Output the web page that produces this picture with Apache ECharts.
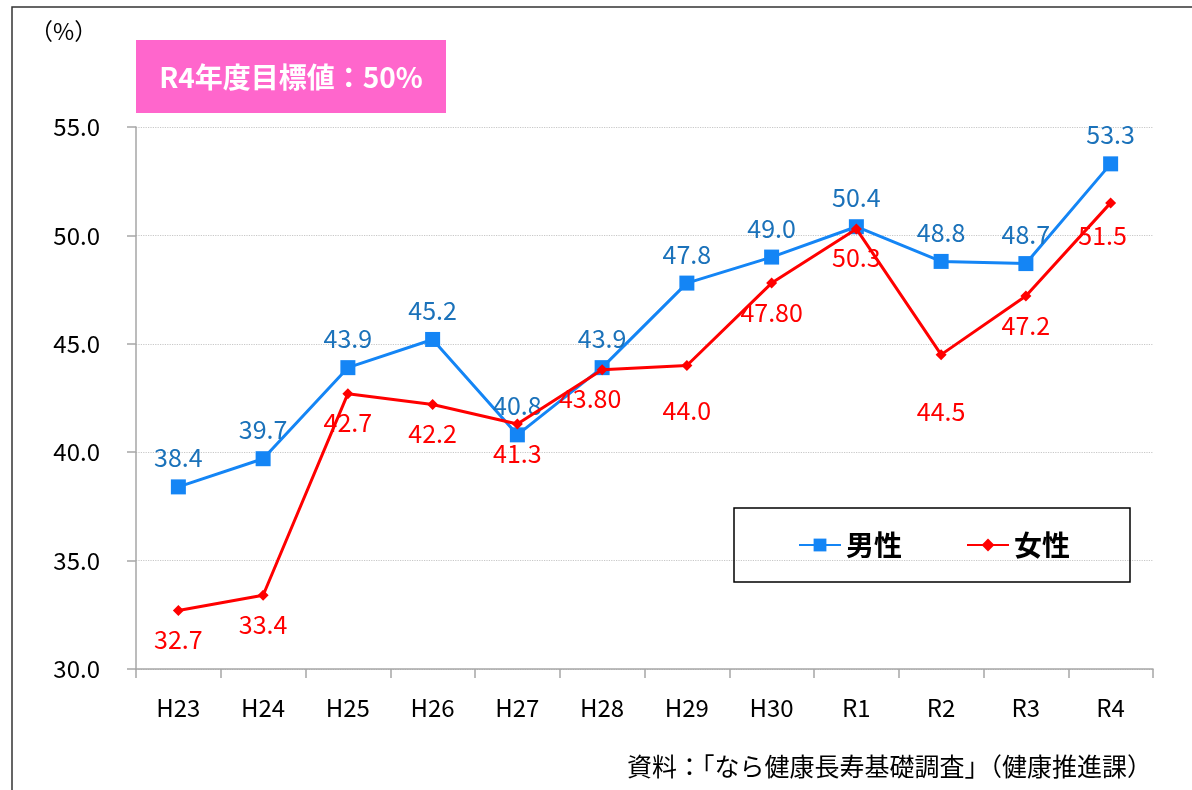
<!DOCTYPE html>
<html>
<head>
<meta charset="utf-8">
<script src="https://cdn.jsdelivr.net/npm/echarts@6/dist/echarts.min.js"></script>
<style>
  html, body { margin: 0; padding: 0; background: #fff; }
  #chart { width: 1192px; height: 790px; }
</style>
</head>
<body>
<div id="chart"></div>
<script>
const years = ["H23", "H24", "H25", "H26", "H27", "H28", "H29", "H30", "R1", "R2", "R3", "R4"];
const male = [38.4, 39.7, 43.9, 45.2, 40.8, 43.9, 47.8, 49.0, 50.4, 48.8, 48.7, 53.3];
const female = [32.7, 33.4, 42.7, 42.2, 41.3, 43.8, 44.0, 47.8, 50.3, 44.5, 47.2, 51.5];
// labels as printed in the source (some show two decimals)
const femaleLabels = ["32.7", "33.4", "42.7", "42.2", "41.3", "43.80", "44.0", "47.80", "50.3", "44.5", "47.2", "51.5"];

const font = "'Noto Sans CJK JP', 'Noto Sans', sans-serif";

// a few labels sit further from their point in the original
const femaleShift = { 5: [-12, 0], 6: [0, 16], 9: [0, 28], 11: [-8, 4] };

const chart = echarts.init(document.getElementById("chart"));

chart.setOption({
  animation: false,
  textStyle: { fontFamily: font },
  grid: { left: 136, right: 39, top: 127, bottom: 121 },
  graphic: [
    {
      type: "rect",
      shape: { x: 12, y: 7, width: 1200, height: 800 },
      style: { fill: "none", stroke: "#333", lineWidth: 1.5 },
      silent: true
    },
    {
      type: "text",
      left: 30, top: 20,
      style: { text: "（%）", font: "23px " + font, fill: "#000" }
    },
    {
      type: "group",
      left: 136, top: 40,
      children: [
        { type: "rect", shape: { x: 0, y: 0, width: 310, height: 73 }, style: { fill: "#ff66cc" } },
        {
          type: "text", x: 155, y: 37,
          style: {
            text: "R4年度目標値：50%", font: "bold 28px " + font, fill: "#fff",
            align: "center", verticalAlign: "middle"
          }
        }
      ]
    },
    {
      type: "text",
      right: 40, top: 754,
      style: { text: "資料：「なら健康長寿基礎調査」（健康推進課）", font: "25px " + font, fill: "#000" }
    }
  ],
  legend: {
    left: 734, top: 508,
    padding: [23, 60, 23, 64],
    borderColor: "#000", borderWidth: 1.5,
    itemWidth: 42, itemHeight: 16, itemGap: 64,
    textStyle: { fontSize: 28, fontWeight: "bold", color: "#000", fontFamily: font },
    data: ["男性", "女性"]
  },
  xAxis: {
    type: "category",
    data: years,
    boundaryGap: true,
    axisLine: { lineStyle: { color: "#a6a6a6", width: 1.5 } },
    axisTick: { show: true, length: 9, lineStyle: { color: "#a6a6a6", width: 1.5 } },
    axisLabel: { color: "#000", fontSize: 24, margin: 27, fontFamily: font }
  },
  yAxis: {
    type: "value",
    min: 30, max: 55, interval: 5,
    axisLine: { show: true, lineStyle: { color: "#a6a6a6", width: 1.5 } },
    axisTick: { show: true, length: 9, lineStyle: { color: "#a6a6a6", width: 1.5 } },
    axisLabel: {
      color: "#000", fontSize: 24, margin: 36, fontFamily: font,
      formatter: v => v.toFixed(1)
    },
    splitLine: { lineStyle: { color: "#c8c8c8", type: "dotted", width: 1.2 } }
  },
  series: [
    {
      name: "男性",
      type: "line",
      data: male,
      symbol: "rect",
      symbolSize: 15,
      lineStyle: { color: "#1485f5", width: 3 },
      itemStyle: { color: "#1485f5" },
      label: {
        show: true, position: "top", distance: 9,
        color: "#1b72ba", fontSize: 25, fontFamily: font,
        formatter: p => p.value.toFixed(1)
      },
      z: 2
    },
    {
      name: "女性",
      type: "line",
      data: female.map((v, i) => {
        const d = { value: v };
        if (femaleShift[i]) d.label = { offset: femaleShift[i] };
        return d;
      }),
      symbol: "diamond",
      symbolSize: 11,
      lineStyle: { color: "#ff0000", width: 3 },
      itemStyle: { color: "#ff0000" },
      label: {
        show: true, position: "bottom", distance: 11,
        color: "#ff0000", fontSize: 25, fontFamily: font,
        formatter: p => femaleLabels[p.dataIndex]
      },
      z: 3
    }
  ]
});
</script>
</body>
</html>
